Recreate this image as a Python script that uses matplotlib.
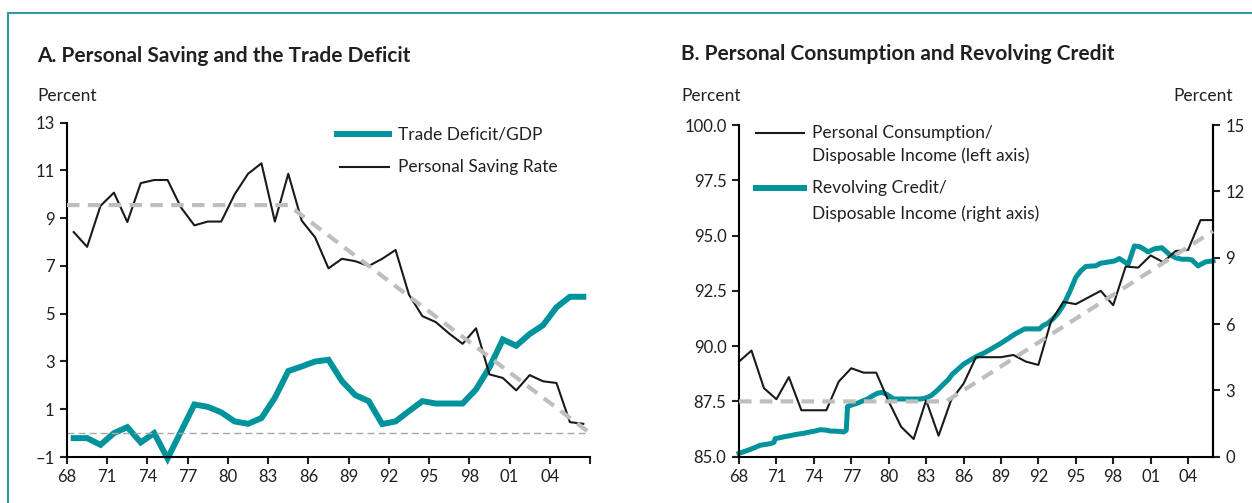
import matplotlib
matplotlib.use('Agg')
import matplotlib.pyplot as plt
from matplotlib.lines import Line2D
import numpy as np

plt.rcParams['font.family'] = ['Lato', 'DejaVu Sans']

TEAL = '#00939b'
GRAY = '#bebebe'
INK = '#231f20'

# Panel A - annual data, 1968-2006
years_a = np.arange(1968, 2007)
trade_deficit = [-0.21, -0.21, -0.49, 0.0, 0.25, -0.39, 0.0, -1.06, 0.07, 1.2,
                 1.1, 0.87, 0.49, 0.39, 0.63, 1.48, 2.6, 2.79, 3.0, 3.07,
                 2.18, 1.59, 1.34, 0.38, 0.49, 0.92, 1.34, 1.24, 1.24, 1.24,
                 1.83, 2.75, 3.92, 3.66, 4.15, 4.52, 5.27, 5.71, 5.71]
saving_rate = [8.42, 7.8, 9.52, 10.07, 8.84, 10.47, 10.6, 10.6, 9.45, 8.7,
               8.86, 8.86, 10.0, 10.86, 11.3, 8.86, 10.86, 8.9, 8.2, 6.9,
               7.3, 7.2, 7.0, 7.3, 7.67, 5.8, 4.9, 4.65, 4.17, 3.74,
               4.39, 2.46, 2.31, 1.79, 2.43, 2.17, 2.1, 0.46, 0.39]
trend_a_x = [1968, 1984.5, 2007]
trend_a_y = [9.55, 9.55, 0.0]

# Panel B
years_b = np.arange(1968, 2007)
consumption = [89.3, 89.8, 88.1, 87.6, 88.6, 87.1, 87.1, 87.1, 88.4, 89.0,
               88.8, 88.8, 87.5, 86.35, 85.8, 87.55, 85.95, 87.55, 88.3, 89.5,
               89.5, 89.5, 89.6, 89.3, 89.15, 91.1, 92.0, 91.9, 92.2, 92.5,
               91.85, 93.6, 93.55, 94.1, 93.8, 94.3, 94.35, 95.7, 95.7]
credit_t = [1968.0, 1968.5, 1968.9, 1969.3, 1969.7, 1970.2, 1970.6, 1970.8, 1970.9, 1971.3,
            1971.6, 1972.1, 1972.6, 1973.2, 1973.7, 1974.1, 1974.5, 1975.0, 1975.3, 1975.9,
            1976.4, 1976.6, 1976.7, 1977.1, 1977.5, 1977.9, 1978.3, 1978.7, 1979.1, 1979.5,
            1979.9, 1980.4, 1981.0, 1981.5, 1982.0, 1982.6, 1983.0, 1983.4, 1983.9, 1984.4,
            1984.8, 1985.1, 1985.6, 1986.0, 1986.6, 1987.1, 1987.65, 1988.3, 1989.0, 1989.6,
            1990.1, 1990.9, 1991.5, 1992.1, 1992.35, 1992.8, 1993.2, 1993.6, 1994.0, 1994.5,
            1995.0, 1995.4, 1995.8, 1996.2, 1996.6, 1997.0, 1997.7, 1998.1, 1998.5, 1999.2,
            1999.5, 1999.7, 2000.1, 2000.4, 2000.8, 2001.3, 2001.9, 2002.2, 2002.5, 2003.0,
            2003.5, 2004.0, 2004.3, 2004.8, 2005.4, 2006.0]
credit = [0.15, 0.25, 0.33, 0.42, 0.52, 0.56, 0.60, 0.65, 0.82, 0.86,
          0.90, 0.95, 1.01, 1.06, 1.12, 1.16, 1.22, 1.20, 1.16, 1.15,
          1.12, 1.20, 2.27, 2.35, 2.42, 2.52, 2.61, 2.75, 2.87, 2.91,
          2.80, 2.61, 2.61, 2.61, 2.61, 2.61, 2.66, 2.76, 3.0, 3.28,
          3.5, 3.73, 3.98, 4.18, 4.39, 4.55, 4.69, 4.9, 5.13, 5.35,
          5.54, 5.78, 5.78, 5.78, 5.92, 6.05, 6.25, 6.5, 6.85, 7.44,
          8.11, 8.4, 8.6, 8.62, 8.63, 8.75, 8.81, 8.85, 8.96, 8.7,
          9.2, 9.53, 9.5, 9.41, 9.26, 9.4, 9.45, 9.3, 9.15, 9.0,
          8.93, 8.93, 8.9, 8.63, 8.81, 8.86]
trend_b_x = [1968, 1984.6, 2006]
trend_b_y = [87.5, 87.5, 95.2]

W, H = 1252, 503
fig = plt.figure(figsize=(W / 100, H / 100), dpi=100)


def px(x, y):
    return x / W, 1 - y / H


def style_axis(ax):
    ax.spines['top'].set_visible(False)
    ax.spines['right'].set_visible(False)
    for s in ax.spines.values():
        s.set_linewidth(1.5)
    ax.tick_params(direction='out', length=5, width=1.5, labelsize=12, colors=INK, pad=4)


def legend_row(ax, x0, x1, y, text_lines, color, lw, dy):
    ax.add_line(Line2D([x0, x1], [y, y], color=color, lw=lw, transform=ax.transAxes, clip_on=False))
    for i, t in enumerate(text_lines):
        ax.text(x1 + 0.016, y - i * dy, t, transform=ax.transAxes, fontsize=12.5,
                va='center', ha='left', color=INK)


# ---- Panel A ----
axA = fig.add_axes([67 / W, 1 - 457 / H, 523 / W, 334.3 / H])
style_axis(axA)
axA.plot(years_a + 0.5, trade_deficit, color=TEAL, lw=4.3, clip_on=False, solid_joinstyle='miter')
axA.plot(years_a + 0.5, saving_rate, color='#1a1a1a', lw=1.5, clip_on=False)
axA.axhline(0, color='#a8a8a8', lw=1.0, ls=(0, (5, 3)))
axA.plot(trend_a_x, trend_a_y, color=GRAY, lw=3, ls=(0, (3, 2)), clip_on=False, zorder=4)
axA.set_xlim(1968, 2007)
axA.set_ylim(-1, 13)
axA.set_yticks(range(-1, 14, 2))
axA.set_yticklabels([str(v) if v >= 0 else '\u2013' + str(-v) for v in range(-1, 14, 2)])
xt_a = list(range(1968, 2008, 3))
axA.set_xticks(xt_a)
axA.set_xticklabels([f'{y % 100:02d}' if y < 2007 else '' for y in xt_a])
legend_row(axA, 0.516, 0.616, 0.966, ['Trade Deficit/GDP'], TEAL, 4.3, 0)
legend_row(axA, 0.522, 0.616, 0.867, ['Personal Saving Rate'], '#1a1a1a', 1.5, 0)

# ---- Panel B ----
axB = fig.add_axes([739 / W, 1 - 456.7 / H, 474 / W, 331.7 / H])
style_axis(axB)
axB.spines['right'].set_visible(True)
axB.plot(years_b, consumption, color='#1a1a1a', lw=1.5, clip_on=False)
axB.plot(trend_b_x, trend_b_y, color=GRAY, lw=3, ls=(0, (3, 2)), clip_on=False, zorder=4)
axB.set_xlim(1968, 2006)
axB.set_ylim(85, 100)
axB.set_yticks(np.arange(85, 100.1, 2.5))
axB.set_yticklabels([f'{v:.1f}' for v in np.arange(85, 100.1, 2.5)])
xt_b = list(range(1968, 2006, 3))
axB.set_xticks(xt_b)
axB.set_xticklabels([f'{y % 100:02d}' for y in xt_b])

axB2 = axB.twinx()
axB2.set_position(axB.get_position())
for s in ['top', 'left', 'bottom']:
    axB2.spines[s].set_visible(False)
axB2.spines['right'].set_linewidth(1.5)
axB2.tick_params(direction='out', length=5, width=1.5, labelsize=12, colors=INK, pad=4)
axB2.plot(credit_t, credit, color=TEAL, lw=3.6, clip_on=False, zorder=2)
axB2.set_ylim(0, 15)
axB2.set_yticks(range(0, 16, 3))
axB.set_zorder(axB2.get_zorder() + 1)
axB.patch.set_visible(False)

legend_row(axB, 0.036, 0.137, 0.976, ['Personal Consumption/', 'Disposable Income (left axis)'],
           '#1a1a1a', 1.5, 0.07)
legend_row(axB, 0.036, 0.137, 0.809, ['Revolving Credit/', 'Disposable Income (right axis)'],
           TEAL, 4.3, 0.075)

# ---- titles and labels ----
fig.text(*px(37, 56), 'A. Personal Saving and the Trade Deficit', fontsize=15,
         fontweight='bold', va='center', ha='left', color=INK)
fig.text(*px(681, 54), 'B. Personal Consumption and Revolving Credit', fontsize=15,
         fontweight='bold', va='center', ha='left', color=INK)
fig.text(*px(37, 96), 'Percent', fontsize=12.5, va='center', ha='left', color=INK)
fig.text(*px(681, 96), 'Percent', fontsize=12.5, va='center', ha='left', color=INK)
fig.text(*px(1233, 96), 'Percent', fontsize=12.5, va='center', ha='right', color=INK)

# frame around the exhibit (top and left edges visible)
fig.add_artist(Line2D([8 / W, 1], [1 - 13 / H] * 2, color='#2f9aa4', lw=1.5, transform=fig.transFigure))
fig.add_artist(Line2D([8 / W] * 2, [0, 1 - 13 / H], color='#2f9aa4', lw=1.5, transform=fig.transFigure))

fig.savefig('out.png', dpi=100)
